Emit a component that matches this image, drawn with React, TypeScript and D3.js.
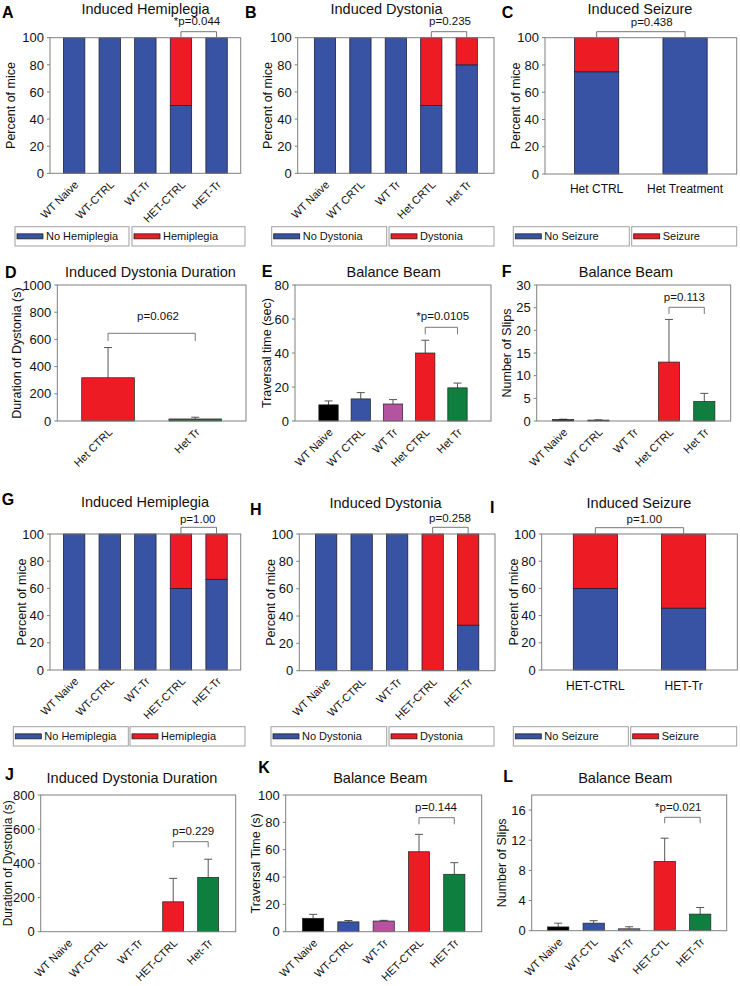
import React from "react";
import * as d3 from "d3";

// ---------- DATA ----------
const catsA = ["WT Naive", "WT-CTRL", "WT-Tr", "HET-CTRL", "HET-Tr"];
const noHemiA = [100, 100, 100, 50, 100];
const hemiA = [0, 0, 0, 50, 0];

const catsB = ["WT Naive", "WT CRTL", "WT Tr", "Het CRTL", "Het Tr"];
const noDystB = [100, 100, 100, 50, 80];
const dystB = [0, 0, 0, 50, 20];

const catsC = ["Het CTRL", "Het Treatment"];
const noSeizC = [75, 100];
const seizC = [25, 0];

const catsD = ["Het CTRL", "Het Tr"];
const durD = [318, 15];
const errD = [222, 13];

const catsE = ["WT Naive", "WT CTRL", "WT Tr", "Het CTRL", "Het Tr"];
const timeE = [9.5, 13, 10, 40, 19.5];
const errE = [2.3, 3.7, 2.6, 7.5, 2.8];

const catsF = ["WT Naive", "WT CTRL", "WT Tr", "Het CTRL", "Het Tr"];
const slipsF = [0.3, 0.2, 0, 13, 4.3];
const errF = [0.1, 0.05, 0, 9.4, 1.8];

const catsG = ["WT Naive", "WT-CTRL", "WT-Tr", "HET-CTRL", "HET-Tr"];
const noHemiG = [100, 100, 100, 60, 66.7];
const hemiG = [0, 0, 0, 40, 33.3];

const catsH = ["WT Naive", "WT-CTRL", "WT-Tr", "HET-CTRL", "HET-Tr"];
const noDystH = [100, 100, 100, 0, 33.3];
const dystH = [0, 0, 0, 100, 66.7];

const catsI = ["HET-CTRL", "HET-Tr"];
const noSeizI = [60, 45.5];
const seizI = [40, 54.5];

const catsJ = ["WT Naive", "WT-CTRL", "WT-Tr", "HET-CTRL", "Het-Tr"];
const durJ = [0, 0, 0, 175, 318];
const errJ = [0, 0, 0, 137, 106];

const catsK = ["WT Naive", "WT-CTRL", "WT-Tr", "HET-CTRL", "HET-Tr"];
const timeK = [9.8, 7.2, 7.8, 58.5, 42];
const errK = [2.9, 1, 0.5, 12.7, 8.5];

const catsL = ["WT Naive", "WT-CTL", "WT-Tr", "HET-CTL", "HET-Tr"];
const slipsL = [0.5, 1.0, 0.25, 9.2, 2.2];
const errL = [0.5, 0.33, 0.27, 3.07, 0.88];

const ticksPct = [0, 20, 40, 60, 80, 100];
const ticksD = [0, 200, 400, 600, 800, 1000];
const ticksE = [0, 20, 40, 60, 80];
const ticksF = [0, 5, 10, 15, 20, 25, 30];
const ticksJ = [0, 200, 400, 600, 800];
const ticksK = [0, 20, 40, 60, 80, 100];
const ticksL = [0, 4, 8, 12, 16];

const legHemi = ["No Hemiplegia", "Hemiplegia"];
const legDyst = ["No Dystonia", "Dystonia"];
const legSeiz = ["No Seizure", "Seizure"];

// ---------- STYLE ----------
const BLUE = "#3953a4";
const RED = "#ed1c24";
const GREEN = "#0f7f3f";
const MAGENTA = "#b453a0";
const BLACK = "#000000";
const FRAME = "#808080";
const FONT = "'Liberation Sans', Arial, sans-serif";
const colors5 = [BLACK, BLUE, MAGENTA, RED, GREEN];

type Panel = {
  letter: string; lx: number; ly: number;
  title: string; tx: number; ty: number;
  L: number; R: number; T: number; B: number;
  yMax: number; ticks: number[];
  cats: string[]; pi: number; po: number;
  ylabel: string; ylx: number; ylSize?: number;
  stack?: number[][];
  vals?: number[]; errs?: number[]; cols?: string[];
  p: string; px: number; py: number; br: [number, number]; bTop: number; bBot: number;
  flatY?: number;
  legend?: { labels: string[]; boxes: number[][]; y0: number; y1: number };
};

const panels: Panel[] = [
  { letter: "A", lx: 2, ly: 18, title: "Induced Hemiplegia", tx: 145.5, ty: 13.5,
    L: 50, R: 240.7, T: 37.7, B: 173.3, yMax: 100, ticks: ticksPct,
    cats: catsA, pi: 0.4, po: 0.378, ylabel: "Percent of mice", ylx: 15,
    stack: [noHemiA, hemiA], p: "*p=0.044", px: 197, py: 25, br: [3, 4], bTop: 31.7, bBot: 37.7,
    legend: { labels: legHemi, boxes: [[15, 129], [132, 245]], y0: 226.7, y1: 246 } },
  { letter: "B", lx: 245, ly: 18, title: "Induced Dystonia", tx: 386.5, ty: 13.5,
    L: 297.7, R: 494, T: 37.7, B: 173.3, yMax: 100, ticks: ticksPct,
    cats: catsB, pi: 0.4, po: 0.47, ylabel: "Percent of mice", ylx: 272,
    stack: [noDystB, dystB], p: "p=0.235", px: 450, py: 25, br: [3, 4], bTop: 31.7, bBot: 37.7,
    legend: { labels: legDyst, boxes: [[271.7, 386.7], [389, 494]], y0: 226.7, y1: 246 } },
  { letter: "C", lx: 501.7, ly: 18, title: "Induced Seizure", tx: 640, ty: 13.5,
    L: 545, R: 736.7, T: 37.7, B: 174, yMax: 100, ticks: ticksPct,
    cats: catsC, pi: 0.5, po: 0.334, ylabel: "Percent of mice", ylx: 520,
    stack: [noSeizC, seizC], p: "p=0.438", px: 651.7, py: 26, br: [0, 1], bTop: 31.7, bBot: 37.7,
    flatY: 193.3,
    legend: { labels: legSeiz, boxes: [[513.3, 629.3], [631.7, 736.7]], y0: 226.7, y1: 246 } },
  { letter: "D", lx: 5, ly: 278, title: "Induced Dystonia Duration", tx: 150.5, ty: 277,
    L: 57.3, R: 246, T: 285, B: 421, yMax: 1000, ticks: ticksD,
    cats: catsD, pi: 0.396, po: 0.28, ylabel: "Duration of Dystonia (s)", ylx: 21,
    vals: durD, errs: errD, cols: [RED, GREEN],
    p: "p=0.062", px: 158, py: 320, br: [0, 1], bTop: 333.3, bBot: 341 },
  { letter: "E", lx: 261.7, ly: 277, title: "Balance Beam", tx: 393.7, ty: 276.7,
    L: 295, R: 491, T: 285, B: 421, yMax: 80, ticks: ticksE,
    cats: catsE, pi: 0.4, po: 0.74, ylabel: "Traversal time (sec)", ylx: 271,
    vals: timeE, errs: errE, cols: colors5,
    p: "*p=0.0105", px: 442.7, py: 320, br: [3, 4], bTop: 327.3, bBot: 334.3 },
  { letter: "F", lx: 501.7, ly: 277, title: "Balance Beam", tx: 626, ty: 277,
    L: 536.7, R: 730.7, T: 285, B: 421, yMax: 30, ticks: ticksF,
    cats: catsF, pi: 0.4, po: 0.448, ylabel: "Number of Slips", ylx: 511,
    vals: slipsF, errs: errF, cols: colors5,
    p: "p=0.113", px: 684.3, py: 301, br: [3, 4], bTop: 307.3, bBot: 314 },
  { letter: "G", lx: 1.7, ly: 505, title: "Induced Hemiplegia", tx: 145, ty: 507.3,
    L: 50, R: 240.7, T: 534, B: 670, yMax: 100, ticks: ticksPct,
    cats: catsG, pi: 0.4, po: 0.378, ylabel: "Percent of mice", ylx: 26,
    stack: [noHemiG, hemiG], p: "p=1.00", px: 197.7, py: 523.3, br: [3, 4], bTop: 527.3, bBot: 534,
    legend: { labels: legHemi, boxes: [[13.3, 128.3], [130, 245]], y0: 726.7, y1: 746 } },
  { letter: "H", lx: 250, ly: 515, title: "Induced Dystonia", tx: 385.5, ty: 508.3,
    L: 299.3, R: 495, T: 534, B: 670.7, yMax: 100, ticks: ticksPct,
    cats: catsH, pi: 0.4, po: 0.456, ylabel: "Percent of mice", ylx: 275,
    stack: [noDystH, dystH], p: "p=0.258", px: 450, py: 522.3, br: [3, 4], bTop: 527.3, bBot: 534,
    legend: { labels: legDyst, boxes: [[271, 386.7], [389, 494]], y0: 726.7, y1: 746 } },
  { letter: "I", lx: 490, ly: 513, title: "Induced Seizure", tx: 639, ty: 508.3,
    L: 541.7, R: 737.3, T: 534, B: 670, yMax: 100, ticks: ticksPct,
    cats: catsI, pi: 0.5, po: 0.358, ylabel: "Percent of mice", ylx: 518,
    stack: [noSeizI, seizI], p: "p=1.00", px: 644.3, py: 523.3, br: [0, 1], bTop: 527.7, bBot: 534,
    flatY: 690,
    legend: { labels: legSeiz, boxes: [[513.3, 628.3], [630.7, 736.7]], y0: 726.7, y1: 746 } },
  { letter: "J", lx: 5, ly: 780, title: "Induced Dystonia Duration", tx: 132, ty: 782.7,
    L: 40.7, R: 235.7, T: 795, B: 931.7, yMax: 800, ticks: ticksJ,
    cats: catsJ, pi: 0.4, po: 0.486, ylabel: "Duration of Dystonia (s)", ylx: 11.5, ylSize: 12,
    vals: durJ, errs: errJ, cols: colors5,
    p: "p=0.229", px: 193.3, py: 835, br: [3, 4], bTop: 841.7, bBot: 847.3 },
  { letter: "K", lx: 258.3, ly: 773, title: "Balance Beam", tx: 380.3, ty: 782.7,
    L: 285.7, R: 481.7, T: 795, B: 931.7, yMax: 100, ticks: ticksK,
    cats: catsK, pi: 0.4, po: 0.476, ylabel: "Traversal Time (s)", ylx: 259.5,
    vals: timeK, errs: errK, cols: colors5,
    p: "p=0.144", px: 436, py: 811, br: [3, 4], bTop: 817.7, bBot: 824.3 },
  { letter: "L", lx: 503.3, ly: 781.5, title: "Balance Beam", tx: 625.3, ty: 782.7,
    L: 531.7, R: 726.7, T: 795, B: 930.7, yMax: 18, ticks: ticksL,
    cats: catsL, pi: 0.4, po: 0.447, ylabel: "Number of Slips", ylx: 506,
    vals: slipsL, errs: errL, cols: colors5,
    p: "*p=0.021", px: 678.3, py: 810.7, br: [3, 4], bTop: 817.3, bBot: 823.3 },
];

function PanelView({ p }: { p: Panel }) {
  const x = d3.scaleBand<string>().domain(p.cats).range([p.L, p.R]).paddingInner(p.pi).paddingOuter(p.po);
  const y = d3.scaleLinear().domain([0, p.yMax]).range([p.B, p.T]);
  const bw = x.bandwidth();
  const cx = (c: string) => (x(c) as number) + bw / 2;
  const stackColors = [BLUE, RED];
  const c1 = cx(p.cats[p.br[0]]);
  const c2 = cx(p.cats[p.br[1]]);
  return (
    <g>
      {p.stack &&
        p.cats.map((c, i) => {
          let acc = 0;
          return p.stack!.map((s, k) => {
            const v = s[i];
            const y0 = acc;
            acc += v;
            if (v <= 0) return null;
            return (
              <rect key={c + k} x={x(c)} y={y(y0 + v)} width={bw} height={y(y0) - y(y0 + v)}
                fill={stackColors[k]} stroke="#1f1f3a" strokeWidth={0.8} />
            );
          });
        })}
      {p.vals &&
        p.cats.map((c, i) => {
          const v = p.vals![i];
          const e = p.errs![i];
          if (v <= 0) return null;
          return (
            <g key={c}>
              {e > 0 && (
                <g stroke="#555" strokeWidth={1}>
                  <line x1={cx(c)} x2={cx(c)} y1={y(v)} y2={y(v + e)} />
                  <line x1={cx(c) - 4} x2={cx(c) + 4} y1={y(v + e)} y2={y(v + e)} />
                </g>
              )}
              <rect x={x(c)} y={y(v)} width={bw} height={p.B - y(v)} fill={p.cols![i]}
                stroke="#222" strokeWidth={0.7} />
            </g>
          );
        })}
      <rect x={p.L} y={p.T} width={p.R - p.L} height={p.B - p.T} fill="none" stroke={FRAME} strokeWidth={1} />
      {p.ticks.map((t) => (
        <g key={t}>
          <line x1={p.L - 3} x2={p.L} y1={y(t)} y2={y(t)} stroke={FRAME} strokeWidth={1} />
          <text x={p.L - 6} y={y(t)} dy="0.36em" textAnchor="end" fontSize={13} fill="#111">{t}</text>
        </g>
      ))}
      <text transform={`translate(${p.ylx},${(p.T + p.B) / 2}) rotate(-90)`} textAnchor="middle"
        fontSize={p.ylSize ?? 12.5} fill="#111">{p.ylabel}</text>
      {p.cats.map((c) =>
        p.flatY !== undefined ? (
          <text key={c} x={cx(c)} y={p.flatY} textAnchor="middle" fontSize={12} fill="#111">{c}</text>
        ) : (
          <text key={c} transform={`translate(${cx(c) + 5},${p.B + 12}) rotate(-45)`} textAnchor="end"
            fontSize={11} fill="#111">{c}</text>
        )
      )}
      <text x={p.tx} y={p.ty} textAnchor="middle" fontSize={14.5} fill="#111">{p.title}</text>
      <text x={p.lx} y={p.ly} fontSize={16} fontWeight="bold" fill="#000">{p.letter}</text>
      <path d={`M${c1},${p.bBot}V${p.bTop}H${c2}V${p.bBot}`} fill="none" stroke="#777" strokeWidth={1} />
      <text x={p.px} y={p.py} textAnchor="middle" fontSize={11.5} fill="#111">{p.p}</text>
      {p.legend &&
        p.legend.boxes.map((b, k) => {
          const ym = (p.legend!.y0 + p.legend!.y1) / 2;
          return (
            <g key={k}>
              <rect x={b[0]} y={p.legend!.y0} width={b[1] - b[0]} height={p.legend!.y1 - p.legend!.y0}
                fill="none" stroke="#a0a0a0" strokeWidth={1} />
              <rect x={b[0] + 2} y={ym - 2.5} width={26} height={5} fill={stackColors[k]} stroke="#222" strokeWidth={0.8} />
              <text x={b[0] + 31} y={ym} dy="0.36em" fontSize={11} fill="#111">{p.legend!.labels[k]}</text>
            </g>
          );
        })}
    </g>
  );
}

export default function App() {
  return (
    <svg width={740} height={986} style={{ position: "absolute", left: 0, top: 0, background: "#fff" }}
      fontFamily={FONT}>
      <rect x={0} y={0} width={740} height={986} fill="#fff" />
      {panels.map((p) => (
        <PanelView key={p.letter} p={p} />
      ))}
    </svg>
  );
}
